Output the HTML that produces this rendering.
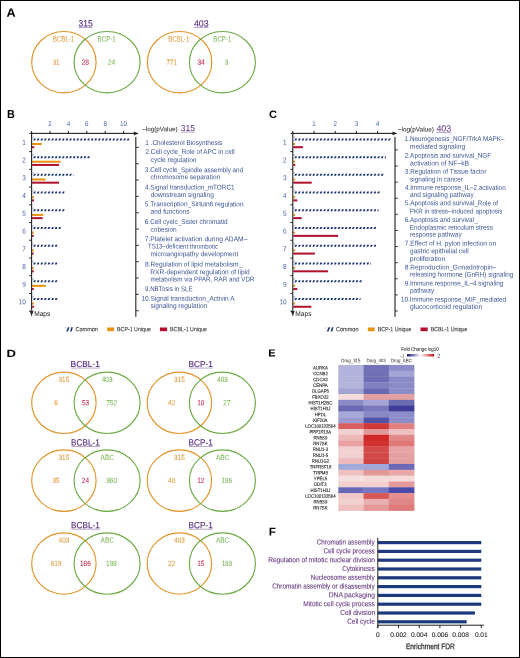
<!DOCTYPE html><html><head><meta charset="utf-8"><style>html,body{margin:0;padding:0;background:#fff;}svg{display:block;will-change:transform;}text{font-family:"Liberation Sans",sans-serif;}</style></head><body>
<svg width="520" height="658" viewBox="0 0 520 658">
<defs><pattern id="hatch" x="0" y="0" width="3.6" height="4" patternUnits="userSpaceOnUse"><path d="M0.6,0 L2.9,0 L2.3,4 L0,4 Z" fill="#1b3577"/></pattern>
<linearGradient id="fcg" x1="0" x2="1" y1="0" y2="0"><stop offset="0" stop-color="#121278"/><stop offset="0.5" stop-color="#ffffff"/><stop offset="1" stop-color="#c80808"/></linearGradient></defs>
<rect x="0" y="0" width="520" height="658" fill="#000"/>
<rect x="1" y="1" width="518" height="656" fill="#fff"/>
<text x="6.58" y="16.70" font-size="11.94" fill="#000" font-weight="bold" textLength="9.15" lengthAdjust="spacingAndGlyphs" transform="rotate(0.06 6.58 16.70)">A</text>
<text x="7.08" y="117.90" font-size="11.67" fill="#000" font-weight="bold" textLength="7.82" lengthAdjust="spacingAndGlyphs" transform="rotate(0.06 7.08 117.90)">B</text>
<text x="268.94" y="118.00" font-size="10.83" fill="#000" font-weight="bold" textLength="8.06" lengthAdjust="spacingAndGlyphs" transform="rotate(0.06 268.94 118.00)">C</text>
<text x="6.63" y="357.00" font-size="10.42" fill="#000" font-weight="bold" textLength="9.42" lengthAdjust="spacingAndGlyphs" transform="rotate(0.06 6.63 357.00)">D</text>
<text x="268.36" y="356.40" font-size="10.28" fill="#000" font-weight="bold" textLength="7.37" lengthAdjust="spacingAndGlyphs" transform="rotate(0.06 268.36 356.40)">E</text>
<text x="268.71" y="535.50" font-size="11.11" fill="#000" font-weight="bold" textLength="7.22" lengthAdjust="spacingAndGlyphs" transform="rotate(0.06 268.71 535.50)">F</text>
<text x="78.48" y="26.40" font-size="9.31" fill="#5b2f82" textLength="14.18" lengthAdjust="spacingAndGlyphs" stroke="#5b2f82" stroke-width="0.15" transform="rotate(0.06 78.48 26.40)">315</text>
<rect x="78.50" y="27.00" width="14.10" height="0.7" fill="#5b2f82" opacity="0.6"/>
<text x="193.90" y="26.40" font-size="9.03" fill="#5b2f82" textLength="14.69" lengthAdjust="spacingAndGlyphs" stroke="#5b2f82" stroke-width="0.15" transform="rotate(0.06 193.90 26.40)">403</text>
<rect x="193.80" y="27.00" width="14.70" height="0.7" fill="#5b2f82" opacity="0.6"/>
<ellipse cx="63.9" cy="62.2" rx="32.2" ry="30.7" fill="none" stroke="#e1952b" stroke-width="1.15"/>
<ellipse cx="107.1" cy="62.2" rx="33.0" ry="30.7" fill="none" stroke="#6cab45" stroke-width="1.15"/>
<text x="52.69" y="41.50" font-size="7.50" fill="#e39c40" textLength="21.61" lengthAdjust="spacingAndGlyphs" stroke="#e39c40" stroke-width="0.08" transform="rotate(0.06 52.69 41.50)">BCBL-1</text>
<text x="97.59" y="41.50" font-size="7.50" fill="#7db85c" textLength="18.21" lengthAdjust="spacingAndGlyphs" stroke="#7db85c" stroke-width="0.08" transform="rotate(0.06 97.59 41.50)">BCP-1</text>
<text x="52.67" y="64.70" font-size="7.50" fill="#e39c40" textLength="6.83" lengthAdjust="spacingAndGlyphs" stroke="#e39c40" stroke-width="0.08" transform="rotate(0.06 52.67 64.70)">31</text>
<text x="81.66" y="64.70" font-size="7.50" fill="#c02a4e" textLength="7.43" lengthAdjust="spacingAndGlyphs" stroke="#c02a4e" stroke-width="0.08" transform="rotate(0.06 81.66 64.70)">28</text>
<text x="107.66" y="64.70" font-size="7.50" fill="#7db85c" textLength="7.54" lengthAdjust="spacingAndGlyphs" stroke="#7db85c" stroke-width="0.08" transform="rotate(0.06 107.66 64.70)">24</text>
<ellipse cx="179.6" cy="62.2" rx="32.2" ry="30.7" fill="none" stroke="#e1952b" stroke-width="1.15"/>
<ellipse cx="222.4" cy="62.2" rx="33.0" ry="30.7" fill="none" stroke="#6cab45" stroke-width="1.15"/>
<text x="168.30" y="41.50" font-size="7.50" fill="#e39c40" textLength="21.19" lengthAdjust="spacingAndGlyphs" stroke="#e39c40" stroke-width="0.08" transform="rotate(0.06 168.30 41.50)">BCBL-1</text>
<text x="213.30" y="41.50" font-size="7.50" fill="#7db85c" textLength="18.10" lengthAdjust="spacingAndGlyphs" stroke="#7db85c" stroke-width="0.08" transform="rotate(0.06 213.30 41.50)">BCP-1</text>
<text x="166.59" y="64.70" font-size="7.50" fill="#e39c40" textLength="10.21" lengthAdjust="spacingAndGlyphs" stroke="#e39c40" stroke-width="0.08" transform="rotate(0.06 166.59 64.70)">771</text>
<text x="197.45" y="64.70" font-size="7.50" fill="#c02a4e" textLength="7.34" lengthAdjust="spacingAndGlyphs" stroke="#c02a4e" stroke-width="0.08" transform="rotate(0.06 197.45 64.70)">34</text>
<text x="224.65" y="64.70" font-size="7.50" fill="#7db85c" textLength="3.64" lengthAdjust="spacingAndGlyphs" stroke="#7db85c" stroke-width="0.08" transform="rotate(0.06 224.65 64.70)">3</text>
<text x="70.61" y="367.00" font-size="8.60" fill="#5b2f82" textLength="29.29" lengthAdjust="spacingAndGlyphs" stroke="#5b2f82" stroke-width="0.15" transform="rotate(0.06 70.61 367.00)">BCBL-1</text>
<rect x="71.00" y="367.70" width="28.80" height="0.7" fill="#5b2f82" opacity="0.6"/>
<text x="188.62" y="367.00" font-size="8.60" fill="#5b2f82" textLength="24.28" lengthAdjust="spacingAndGlyphs" stroke="#5b2f82" stroke-width="0.15" transform="rotate(0.06 188.62 367.00)">BCP-1</text>
<rect x="189.00" y="367.70" width="23.80" height="0.7" fill="#5b2f82" opacity="0.6"/>
<ellipse cx="63.9" cy="402.8" rx="32.2" ry="30.7" fill="none" stroke="#e1952b" stroke-width="1.15"/>
<ellipse cx="107.1" cy="402.8" rx="33.0" ry="30.7" fill="none" stroke="#6cab45" stroke-width="1.15"/>
<text x="58.53" y="382.10" font-size="7.50" fill="#e39c40" textLength="10.76" lengthAdjust="spacingAndGlyphs" stroke="#e39c40" stroke-width="0.08" transform="rotate(0.06 58.53 382.10)">315</text>
<text x="101.79" y="382.10" font-size="7.50" fill="#7db85c" textLength="10.76" lengthAdjust="spacingAndGlyphs" stroke="#7db85c" stroke-width="0.08" transform="rotate(0.06 101.79 382.10)">403</text>
<text x="54.28" y="405.30" font-size="7.50" fill="#e39c40" textLength="3.59" lengthAdjust="spacingAndGlyphs" stroke="#e39c40" stroke-width="0.08" transform="rotate(0.06 54.28 405.30)">6</text>
<text x="81.93" y="405.30" font-size="7.50" fill="#c02a4e" textLength="7.17" lengthAdjust="spacingAndGlyphs" stroke="#c02a4e" stroke-width="0.08" transform="rotate(0.06 81.93 405.30)">53</text>
<text x="106.22" y="405.30" font-size="7.50" fill="#7db85c" textLength="10.76" lengthAdjust="spacingAndGlyphs" stroke="#7db85c" stroke-width="0.08" transform="rotate(0.06 106.22 405.30)">752</text>
<ellipse cx="179.4" cy="402.8" rx="32.2" ry="30.7" fill="none" stroke="#e1952b" stroke-width="1.15"/>
<ellipse cx="222.4" cy="402.8" rx="33.0" ry="30.7" fill="none" stroke="#6cab45" stroke-width="1.15"/>
<text x="174.03" y="382.10" font-size="7.50" fill="#e39c40" textLength="10.76" lengthAdjust="spacingAndGlyphs" stroke="#e39c40" stroke-width="0.08" transform="rotate(0.06 174.03 382.10)">315</text>
<text x="217.09" y="382.10" font-size="7.50" fill="#7db85c" textLength="10.76" lengthAdjust="spacingAndGlyphs" stroke="#7db85c" stroke-width="0.08" transform="rotate(0.06 217.09 382.10)">403</text>
<text x="168.10" y="405.30" font-size="7.50" fill="#e39c40" textLength="7.17" lengthAdjust="spacingAndGlyphs" stroke="#e39c40" stroke-width="0.08" transform="rotate(0.06 168.10 405.30)">42</text>
<text x="197.19" y="405.30" font-size="7.50" fill="#c02a4e" textLength="7.17" lengthAdjust="spacingAndGlyphs" stroke="#c02a4e" stroke-width="0.08" transform="rotate(0.06 197.19 405.30)">10</text>
<text x="223.31" y="405.30" font-size="7.50" fill="#7db85c" textLength="7.17" lengthAdjust="spacingAndGlyphs" stroke="#7db85c" stroke-width="0.08" transform="rotate(0.06 223.31 405.30)">27</text>
<text x="71.02" y="445.40" font-size="9.17" fill="#5b2f82" textLength="28.88" lengthAdjust="spacingAndGlyphs" stroke="#5b2f82" stroke-width="0.15" transform="rotate(0.06 71.02 445.40)">BCBL-1</text>
<rect x="71.40" y="446.10" width="28.40" height="0.7" fill="#5b2f82" opacity="0.6"/>
<text x="188.62" y="445.40" font-size="9.17" fill="#5b2f82" textLength="24.28" lengthAdjust="spacingAndGlyphs" stroke="#5b2f82" stroke-width="0.15" transform="rotate(0.06 188.62 445.40)">BCP-1</text>
<rect x="189.00" y="446.10" width="23.80" height="0.7" fill="#5b2f82" opacity="0.6"/>
<ellipse cx="63.9" cy="480.6" rx="32.2" ry="30.7" fill="none" stroke="#e1952b" stroke-width="1.15"/>
<ellipse cx="107.1" cy="480.6" rx="33.0" ry="30.7" fill="none" stroke="#6cab45" stroke-width="1.15"/>
<text x="58.53" y="459.90" font-size="7.50" fill="#e39c40" textLength="10.76" lengthAdjust="spacingAndGlyphs" stroke="#e39c40" stroke-width="0.08" transform="rotate(0.06 58.53 459.90)">315</text>
<text x="100.59" y="459.90" font-size="7.50" fill="#7db85c" textLength="13.26" lengthAdjust="spacingAndGlyphs" stroke="#7db85c" stroke-width="0.08" transform="rotate(0.06 100.59 459.90)">ABC</text>
<text x="52.53" y="483.10" font-size="7.50" fill="#e39c40" textLength="7.17" lengthAdjust="spacingAndGlyphs" stroke="#e39c40" stroke-width="0.08" transform="rotate(0.06 52.53 483.10)">35</text>
<text x="81.85" y="483.10" font-size="7.50" fill="#c02a4e" textLength="7.17" lengthAdjust="spacingAndGlyphs" stroke="#c02a4e" stroke-width="0.08" transform="rotate(0.06 81.85 483.10)">24</text>
<text x="106.22" y="483.10" font-size="7.50" fill="#7db85c" textLength="10.76" lengthAdjust="spacingAndGlyphs" stroke="#7db85c" stroke-width="0.08" transform="rotate(0.06 106.22 483.10)">360</text>
<ellipse cx="179.4" cy="480.6" rx="32.2" ry="30.7" fill="none" stroke="#e1952b" stroke-width="1.15"/>
<ellipse cx="222.4" cy="480.6" rx="33.0" ry="30.7" fill="none" stroke="#6cab45" stroke-width="1.15"/>
<text x="174.03" y="459.90" font-size="7.50" fill="#e39c40" textLength="10.76" lengthAdjust="spacingAndGlyphs" stroke="#e39c40" stroke-width="0.08" transform="rotate(0.06 174.03 459.90)">315</text>
<text x="215.89" y="459.90" font-size="7.50" fill="#7db85c" textLength="13.26" lengthAdjust="spacingAndGlyphs" stroke="#7db85c" stroke-width="0.08" transform="rotate(0.06 215.89 459.90)">ABC</text>
<text x="168.06" y="483.10" font-size="7.50" fill="#e39c40" textLength="7.17" lengthAdjust="spacingAndGlyphs" stroke="#e39c40" stroke-width="0.08" transform="rotate(0.06 168.06 483.10)">40</text>
<text x="197.23" y="483.10" font-size="7.50" fill="#c02a4e" textLength="7.17" lengthAdjust="spacingAndGlyphs" stroke="#c02a4e" stroke-width="0.08" transform="rotate(0.06 197.23 483.10)">12</text>
<text x="221.42" y="483.10" font-size="7.50" fill="#7db85c" textLength="10.76" lengthAdjust="spacingAndGlyphs" stroke="#7db85c" stroke-width="0.08" transform="rotate(0.06 221.42 483.10)">186</text>
<text x="71.02" y="528.20" font-size="9.03" fill="#5b2f82" textLength="28.88" lengthAdjust="spacingAndGlyphs" stroke="#5b2f82" stroke-width="0.15" transform="rotate(0.06 71.02 528.20)">BCBL-1</text>
<rect x="71.40" y="528.80" width="28.40" height="0.7" fill="#5b2f82" opacity="0.6"/>
<text x="188.62" y="528.20" font-size="9.03" fill="#5b2f82" textLength="24.28" lengthAdjust="spacingAndGlyphs" stroke="#5b2f82" stroke-width="0.15" transform="rotate(0.06 188.62 528.20)">BCP-1</text>
<rect x="189.00" y="528.80" width="23.80" height="0.7" fill="#5b2f82" opacity="0.6"/>
<ellipse cx="63.9" cy="563.5" rx="32.2" ry="30.7" fill="none" stroke="#e1952b" stroke-width="1.15"/>
<ellipse cx="107.1" cy="563.5" rx="33.0" ry="30.7" fill="none" stroke="#6cab45" stroke-width="1.15"/>
<text x="58.59" y="542.80" font-size="7.50" fill="#e39c40" textLength="10.76" lengthAdjust="spacingAndGlyphs" stroke="#e39c40" stroke-width="0.08" transform="rotate(0.06 58.59 542.80)">403</text>
<text x="100.59" y="542.80" font-size="7.50" fill="#7db85c" textLength="13.26" lengthAdjust="spacingAndGlyphs" stroke="#7db85c" stroke-width="0.08" transform="rotate(0.06 100.59 542.80)">ABC</text>
<text x="50.71" y="566.00" font-size="7.50" fill="#e39c40" textLength="10.76" lengthAdjust="spacingAndGlyphs" stroke="#e39c40" stroke-width="0.08" transform="rotate(0.06 50.71 566.00)">619</text>
<text x="80.02" y="566.00" font-size="7.50" fill="#c02a4e" textLength="10.76" lengthAdjust="spacingAndGlyphs" stroke="#c02a4e" stroke-width="0.08" transform="rotate(0.06 80.02 566.00)">186</text>
<text x="106.11" y="566.00" font-size="7.50" fill="#7db85c" textLength="10.76" lengthAdjust="spacingAndGlyphs" stroke="#7db85c" stroke-width="0.08" transform="rotate(0.06 106.11 566.00)">198</text>
<ellipse cx="179.4" cy="563.5" rx="32.2" ry="30.7" fill="none" stroke="#e1952b" stroke-width="1.15"/>
<ellipse cx="222.4" cy="563.5" rx="33.0" ry="30.7" fill="none" stroke="#6cab45" stroke-width="1.15"/>
<text x="174.09" y="542.80" font-size="7.50" fill="#e39c40" textLength="10.76" lengthAdjust="spacingAndGlyphs" stroke="#e39c40" stroke-width="0.08" transform="rotate(0.06 174.09 542.80)">403</text>
<text x="215.89" y="542.80" font-size="7.50" fill="#7db85c" textLength="13.26" lengthAdjust="spacingAndGlyphs" stroke="#7db85c" stroke-width="0.08" transform="rotate(0.06 215.89 542.80)">ABC</text>
<text x="168.01" y="566.00" font-size="7.50" fill="#e39c40" textLength="7.17" lengthAdjust="spacingAndGlyphs" stroke="#e39c40" stroke-width="0.08" transform="rotate(0.06 168.01 566.00)">22</text>
<text x="197.20" y="566.00" font-size="7.50" fill="#c02a4e" textLength="7.17" lengthAdjust="spacingAndGlyphs" stroke="#c02a4e" stroke-width="0.08" transform="rotate(0.06 197.20 566.00)">15</text>
<text x="221.42" y="566.00" font-size="7.50" fill="#7db85c" textLength="10.76" lengthAdjust="spacingAndGlyphs" stroke="#7db85c" stroke-width="0.08" transform="rotate(0.06 221.42 566.00)">183</text>
<path d="M33.25,140.40L35.15,140.40L35.85,138.40L33.95,138.40ZM36.85,140.40L38.75,140.40L39.45,138.40L37.55,138.40ZM40.45,140.40L42.35,140.40L43.05,138.40L41.15,138.40ZM44.05,140.40L45.95,140.40L46.65,138.40L44.75,138.40ZM47.65,140.40L49.55,140.40L50.25,138.40L48.35,138.40ZM51.25,140.40L53.15,140.40L53.85,138.40L51.95,138.40ZM54.85,140.40L56.75,140.40L57.45,138.40L55.55,138.40ZM58.45,140.40L60.35,140.40L61.05,138.40L59.15,138.40ZM62.05,140.40L63.95,140.40L64.65,138.40L62.75,138.40ZM65.65,140.40L67.55,140.40L68.25,138.40L66.35,138.40ZM69.25,140.40L71.15,140.40L71.85,138.40L69.95,138.40ZM72.85,140.40L74.75,140.40L75.45,138.40L73.55,138.40ZM76.45,140.40L78.35,140.40L79.05,138.40L77.15,138.40ZM80.05,140.40L81.95,140.40L82.65,138.40L80.75,138.40ZM83.65,140.40L85.55,140.40L86.25,138.40L84.35,138.40ZM87.25,140.40L89.15,140.40L89.85,138.40L87.95,138.40ZM90.85,140.40L92.75,140.40L93.45,138.40L91.55,138.40ZM94.45,140.40L96.35,140.40L97.05,138.40L95.15,138.40ZM98.05,140.40L99.95,140.40L100.65,138.40L98.75,138.40ZM101.65,140.40L103.55,140.40L104.25,138.40L102.35,138.40ZM105.25,140.40L107.15,140.40L107.85,138.40L105.95,138.40ZM108.85,140.40L110.75,140.40L111.45,138.40L109.55,138.40ZM112.45,140.40L114.35,140.40L115.05,138.40L113.15,138.40ZM116.05,140.40L117.95,140.40L118.65,138.40L116.75,138.40ZM119.65,140.40L121.55,140.40L122.25,138.40L120.35,138.40ZM123.25,140.40L125.15,140.40L125.85,138.40L123.95,138.40ZM126.85,140.40L128.75,140.40L129.45,138.40L127.55,138.40Z" fill="#1b3577"/>
<path d="M32.20,138.30L33.20,138.30L33.90,136.50L32.90,136.50Z" fill="#9fadd2"/>
<rect x="32.10" y="143.00" width="9.70" height="2" fill="#e8920e"/>
<rect x="32.10" y="146.20" width="2.20" height="2" fill="#b0102e"/>
<text x="22.31" y="144.80" font-size="7.20" fill="#4a66a8" textLength="3.60" lengthAdjust="spacingAndGlyphs" transform="rotate(0.06 22.31 144.80)">1</text>
<rect x="29.20" y="151.10" width="2.4" height="1" fill="#222"/>
<path d="M33.25,158.13L35.15,158.13L35.85,156.13L33.95,156.13ZM36.85,158.13L38.75,158.13L39.45,156.13L37.55,156.13ZM40.45,158.13L42.35,158.13L43.05,156.13L41.15,156.13ZM44.05,158.13L45.95,158.13L46.65,156.13L44.75,156.13ZM47.65,158.13L49.55,158.13L50.25,156.13L48.35,156.13ZM51.25,158.13L53.15,158.13L53.85,156.13L51.95,156.13ZM54.85,158.13L56.75,158.13L57.45,156.13L55.55,156.13ZM58.45,158.13L60.35,158.13L61.05,156.13L59.15,156.13ZM62.05,158.13L63.95,158.13L64.65,156.13L62.75,156.13ZM65.65,158.13L67.55,158.13L68.25,156.13L66.35,156.13ZM69.25,158.13L71.15,158.13L71.85,156.13L69.95,156.13ZM72.85,158.13L74.75,158.13L75.45,156.13L73.55,156.13ZM76.45,158.13L78.35,158.13L79.05,156.13L77.15,156.13ZM80.05,158.13L81.95,158.13L82.65,156.13L80.75,156.13ZM83.65,158.13L85.55,158.13L86.25,156.13L84.35,156.13ZM87.25,158.13L89.15,158.13L89.85,156.13L87.95,156.13Z" fill="#1b3577"/>
<path d="M32.20,156.03L33.20,156.03L33.90,154.23L32.90,154.23Z" fill="#9fadd2"/>
<rect x="32.10" y="160.73" width="28.50" height="2" fill="#e8920e"/>
<rect x="32.10" y="163.93" width="26.90" height="2" fill="#b0102e"/>
<text x="22.32" y="162.53" font-size="7.20" fill="#4a66a8" textLength="3.60" lengthAdjust="spacingAndGlyphs" transform="rotate(0.06 22.32 162.53)">2</text>
<rect x="29.20" y="168.83" width="2.4" height="1" fill="#222"/>
<path d="M33.25,175.86L35.15,175.86L35.85,173.86L33.95,173.86ZM36.85,175.86L38.75,175.86L39.45,173.86L37.55,173.86ZM40.45,175.86L42.35,175.86L43.05,173.86L41.15,173.86ZM44.05,175.86L45.95,175.86L46.65,173.86L44.75,173.86ZM47.65,175.86L49.55,175.86L50.25,173.86L48.35,173.86ZM51.25,175.86L53.15,175.86L53.85,173.86L51.95,173.86ZM54.85,175.86L56.75,175.86L57.45,173.86L55.55,173.86ZM58.45,175.86L60.35,175.86L61.05,173.86L59.15,173.86ZM62.05,175.86L63.95,175.86L64.65,173.86L62.75,173.86ZM65.65,175.86L67.55,175.86L68.25,173.86L66.35,173.86ZM69.25,175.86L71.15,175.86L71.85,173.86L69.95,173.86ZM72.85,175.86L73.40,175.86L73.40,173.86L73.40,173.86Z" fill="#1b3577"/>
<path d="M32.20,173.76L33.20,173.76L33.90,171.96L32.90,171.96Z" fill="#9fadd2"/>
<rect x="32.10" y="178.46" width="13.40" height="2" fill="#e8920e"/>
<rect x="32.10" y="181.66" width="26.90" height="2" fill="#b0102e"/>
<text x="22.28" y="180.26" font-size="7.20" fill="#4a66a8" textLength="3.60" lengthAdjust="spacingAndGlyphs" transform="rotate(0.06 22.28 180.26)">3</text>
<rect x="29.20" y="186.56" width="2.4" height="1" fill="#222"/>
<path d="M33.25,193.59L35.15,193.59L35.85,191.59L33.95,191.59ZM36.85,193.59L38.75,193.59L39.45,191.59L37.55,191.59ZM40.45,193.59L42.35,193.59L43.05,191.59L41.15,191.59ZM44.05,193.59L45.95,193.59L46.65,191.59L44.75,191.59ZM47.65,193.59L49.55,193.59L50.25,191.59L48.35,191.59ZM51.25,193.59L53.15,193.59L53.85,191.59L51.95,191.59ZM54.85,193.59L56.75,193.59L57.45,191.59L55.55,191.59ZM58.45,193.59L60.35,193.59L61.05,191.59L59.15,191.59ZM62.05,193.59L63.95,193.59L64.65,191.59L62.75,191.59Z" fill="#1b3577"/>
<path d="M32.20,191.49L33.20,191.49L33.90,189.69L32.90,189.69Z" fill="#9fadd2"/>
<rect x="32.10" y="196.19" width="1.90" height="2" fill="#e8920e"/>
<rect x="32.10" y="199.39" width="1.90" height="2" fill="#b0102e"/>
<text x="22.19" y="197.99" font-size="7.20" fill="#4a66a8" textLength="3.60" lengthAdjust="spacingAndGlyphs" transform="rotate(0.06 22.19 197.99)">4</text>
<rect x="29.20" y="204.29" width="2.4" height="1" fill="#222"/>
<path d="M33.25,211.32L35.15,211.32L35.85,209.32L33.95,209.32ZM36.85,211.32L38.75,211.32L39.45,209.32L37.55,209.32ZM40.45,211.32L42.35,211.32L43.05,209.32L41.15,209.32ZM44.05,211.32L45.95,211.32L46.65,209.32L44.75,209.32ZM47.65,211.32L49.55,211.32L50.25,209.32L48.35,209.32ZM51.25,211.32L53.15,211.32L53.85,209.32L51.95,209.32ZM54.85,211.32L56.75,211.32L57.45,209.32L55.55,209.32ZM58.45,211.32L60.35,211.32L61.05,209.32L59.15,209.32ZM62.05,211.32L63.95,211.32L64.65,209.32L62.75,209.32Z" fill="#1b3577"/>
<path d="M32.20,209.22L33.20,209.22L33.90,207.42L32.90,207.42Z" fill="#9fadd2"/>
<rect x="32.10" y="213.92" width="11.20" height="2" fill="#e8920e"/>
<rect x="32.10" y="217.12" width="10.50" height="2" fill="#b0102e"/>
<text x="22.27" y="215.72" font-size="7.20" fill="#4a66a8" textLength="3.60" lengthAdjust="spacingAndGlyphs" transform="rotate(0.06 22.27 215.72)">5</text>
<rect x="29.20" y="222.02" width="2.4" height="1" fill="#222"/>
<path d="M33.25,229.05L35.15,229.05L35.85,227.05L33.95,227.05ZM36.85,229.05L38.75,229.05L39.45,227.05L37.55,227.05ZM40.45,229.05L42.35,229.05L43.05,227.05L41.15,227.05ZM44.05,229.05L45.95,229.05L46.65,227.05L44.75,227.05ZM47.65,229.05L49.55,229.05L50.25,227.05L48.35,227.05ZM51.25,229.05L53.15,229.05L53.85,227.05L51.95,227.05ZM54.85,229.05L56.75,229.05L57.45,227.05L55.55,227.05ZM58.45,229.05L60.35,229.05L60.90,227.05L59.15,227.05Z" fill="#1b3577"/>
<path d="M32.20,226.95L33.20,226.95L33.90,225.15L32.90,225.15Z" fill="#9fadd2"/>
<rect x="32.10" y="231.65" width="1.70" height="2" fill="#e8920e"/>
<rect x="32.10" y="234.85" width="1.70" height="2" fill="#b0102e"/>
<text x="22.28" y="233.45" font-size="7.20" fill="#4a66a8" textLength="3.60" lengthAdjust="spacingAndGlyphs" transform="rotate(0.06 22.28 233.45)">6</text>
<rect x="29.20" y="239.75" width="2.4" height="1" fill="#222"/>
<path d="M33.25,246.78L35.15,246.78L35.85,244.78L33.95,244.78ZM36.85,246.78L38.75,246.78L39.45,244.78L37.55,244.78ZM40.45,246.78L42.35,246.78L43.05,244.78L41.15,244.78ZM44.05,246.78L45.95,246.78L46.65,244.78L44.75,244.78ZM47.65,246.78L49.55,246.78L50.25,244.78L48.35,244.78ZM51.25,246.78L53.15,246.78L53.85,244.78L51.95,244.78ZM54.85,246.78L56.75,246.78L57.45,244.78L55.55,244.78Z" fill="#1b3577"/>
<path d="M32.20,244.68L33.20,244.68L33.90,242.88L32.90,242.88Z" fill="#9fadd2"/>
<rect x="32.10" y="249.38" width="1.70" height="2" fill="#e8920e"/>
<rect x="32.10" y="252.58" width="1.70" height="2" fill="#b0102e"/>
<text x="22.32" y="251.18" font-size="7.20" fill="#4a66a8" textLength="3.60" lengthAdjust="spacingAndGlyphs" transform="rotate(0.06 22.32 251.18)">7</text>
<rect x="29.20" y="257.48" width="2.4" height="1" fill="#222"/>
<path d="M33.25,264.51L35.15,264.51L35.85,262.51L33.95,262.51ZM36.85,264.51L38.75,264.51L39.45,262.51L37.55,262.51ZM40.45,264.51L42.35,264.51L43.05,262.51L41.15,262.51ZM44.05,264.51L45.95,264.51L46.65,262.51L44.75,262.51ZM47.65,264.51L49.55,264.51L50.25,262.51L48.35,262.51ZM51.25,264.51L53.15,264.51L53.85,262.51L51.95,262.51ZM54.85,264.51L56.75,264.51L57.45,262.51L55.55,262.51Z" fill="#1b3577"/>
<path d="M32.20,262.41L33.20,262.41L33.90,260.61L32.90,260.61Z" fill="#9fadd2"/>
<rect x="32.10" y="267.11" width="1.70" height="2" fill="#e8920e"/>
<rect x="32.10" y="270.31" width="1.70" height="2" fill="#b0102e"/>
<text x="22.28" y="268.91" font-size="7.20" fill="#4a66a8" textLength="3.60" lengthAdjust="spacingAndGlyphs" transform="rotate(0.06 22.28 268.91)">8</text>
<rect x="29.20" y="275.21" width="2.4" height="1" fill="#222"/>
<path d="M33.25,282.24L35.15,282.24L35.85,280.24L33.95,280.24ZM36.85,282.24L38.75,282.24L39.45,280.24L37.55,280.24ZM40.45,282.24L42.35,282.24L43.05,280.24L41.15,280.24ZM44.05,282.24L45.95,282.24L46.65,280.24L44.75,280.24ZM47.65,282.24L49.55,282.24L50.25,280.24L48.35,280.24ZM51.25,282.24L53.15,282.24L53.85,280.24L51.95,280.24ZM54.85,282.24L56.75,282.24L57.45,280.24L55.55,280.24Z" fill="#1b3577"/>
<path d="M32.20,280.14L33.20,280.14L33.90,278.34L32.90,278.34Z" fill="#9fadd2"/>
<rect x="32.10" y="284.84" width="13.80" height="2" fill="#e8920e"/>
<rect x="32.10" y="288.04" width="1.70" height="2" fill="#b0102e"/>
<text x="22.30" y="286.64" font-size="7.20" fill="#4a66a8" textLength="3.60" lengthAdjust="spacingAndGlyphs" transform="rotate(0.06 22.30 286.64)">9</text>
<rect x="29.20" y="292.94" width="2.4" height="1" fill="#222"/>
<path d="M33.25,299.97L35.15,299.97L35.85,297.97L33.95,297.97ZM36.85,299.97L38.75,299.97L39.45,297.97L37.55,297.97ZM40.45,299.97L42.35,299.97L43.05,297.97L41.15,297.97ZM44.05,299.97L45.95,299.97L46.65,297.97L44.75,297.97ZM47.65,299.97L49.55,299.97L50.25,297.97L48.35,297.97ZM51.25,299.97L53.15,299.97L53.85,297.97L51.95,297.97ZM54.85,299.97L56.75,299.97L57.45,297.97L55.55,297.97Z" fill="#1b3577"/>
<path d="M32.20,297.87L33.20,297.87L33.90,296.07L32.90,296.07Z" fill="#9fadd2"/>
<rect x="32.10" y="302.57" width="1.70" height="2" fill="#e8920e"/>
<rect x="32.10" y="305.77" width="1.70" height="2" fill="#b0102e"/>
<text x="18.65" y="304.37" font-size="7.20" fill="#4a66a8" textLength="7.21" lengthAdjust="spacingAndGlyphs" transform="rotate(0.06 18.65 304.37)">10</text>
<rect x="29.20" y="310.67" width="2.4" height="1" fill="#222"/>
<rect x="29.40" y="132.85" width="105.00" height="1.1" fill="#222"/>
<path d="M133.9,131.5 L138.9,133.4 L133.9,135.3 Z" fill="#222"/>
<rect x="31.05" y="132.85" width="1.1" height="177.40" fill="#222"/>
<path d="M29.700000000000003,310.8 L31.6,316.4 L33.5,310.8 Z" fill="#222"/>
<text x="34.16" y="315.90" font-size="7.00" fill="#222" textLength="16.18" lengthAdjust="spacingAndGlyphs" transform="rotate(0.06 34.16 315.90)">Maps</text>
<rect x="31.10" y="130.90" width="1" height="2.5" fill="#222"/>
<rect x="49.50" y="130.90" width="1" height="2.5" fill="#222"/>
<text x="48.25" y="126.00" font-size="7.00" fill="#4a66a8" textLength="3.50" lengthAdjust="spacingAndGlyphs" transform="rotate(0.06 48.25 126.00)">2</text>
<rect x="67.90" y="130.90" width="1" height="2.5" fill="#222"/>
<text x="66.67" y="126.00" font-size="7.00" fill="#4a66a8" textLength="3.50" lengthAdjust="spacingAndGlyphs" transform="rotate(0.06 66.67 126.00)">4</text>
<rect x="86.30" y="130.90" width="1" height="2.5" fill="#222"/>
<text x="85.03" y="126.00" font-size="7.00" fill="#4a66a8" textLength="3.50" lengthAdjust="spacingAndGlyphs" transform="rotate(0.06 85.03 126.00)">6</text>
<rect x="104.70" y="130.90" width="1" height="2.5" fill="#222"/>
<text x="103.45" y="126.00" font-size="7.00" fill="#4a66a8" textLength="3.50" lengthAdjust="spacingAndGlyphs" transform="rotate(0.06 103.45 126.00)">8</text>
<rect x="123.10" y="130.90" width="1" height="2.5" fill="#222"/>
<text x="119.98" y="126.00" font-size="7.00" fill="#4a66a8" textLength="7.01" lengthAdjust="spacingAndGlyphs" transform="rotate(0.06 119.98 126.00)">10</text>
<rect x="135.20" y="136.9" width="1.2" height="179.90" fill="#333"/>
<rect x="135.80" y="146.90" width="3.0" height="1" fill="#333"/>
<rect x="135.80" y="163.23" width="3.0" height="1" fill="#333"/>
<rect x="135.80" y="179.56" width="3.0" height="1" fill="#333"/>
<rect x="135.80" y="195.89" width="3.0" height="1" fill="#333"/>
<rect x="135.80" y="212.22" width="3.0" height="1" fill="#333"/>
<rect x="135.80" y="228.55" width="3.0" height="1" fill="#333"/>
<rect x="135.80" y="244.88" width="3.0" height="1" fill="#333"/>
<rect x="135.80" y="261.21" width="3.0" height="1" fill="#333"/>
<rect x="135.80" y="277.54" width="3.0" height="1" fill="#333"/>
<rect x="135.80" y="293.87" width="3.0" height="1" fill="#333"/>
<rect x="135.80" y="310.20" width="3.0" height="1" fill="#333"/>
<path d="M294.45,140.40L296.35,140.40L297.05,138.40L295.15,138.40ZM298.05,140.40L299.95,140.40L300.65,138.40L298.75,138.40ZM301.65,140.40L303.55,140.40L304.25,138.40L302.35,138.40ZM305.25,140.40L307.15,140.40L307.85,138.40L305.95,138.40ZM308.85,140.40L310.75,140.40L311.45,138.40L309.55,138.40ZM312.45,140.40L314.35,140.40L315.05,138.40L313.15,138.40ZM316.05,140.40L317.95,140.40L318.65,138.40L316.75,138.40ZM319.65,140.40L321.55,140.40L322.25,138.40L320.35,138.40ZM323.25,140.40L325.15,140.40L325.85,138.40L323.95,138.40ZM326.85,140.40L328.75,140.40L329.45,138.40L327.55,138.40ZM330.45,140.40L332.35,140.40L333.05,138.40L331.15,138.40ZM334.05,140.40L335.95,140.40L336.65,138.40L334.75,138.40ZM337.65,140.40L339.55,140.40L340.25,138.40L338.35,138.40ZM341.25,140.40L343.15,140.40L343.85,138.40L341.95,138.40ZM344.85,140.40L346.75,140.40L347.45,138.40L345.55,138.40ZM348.45,140.40L350.35,140.40L351.05,138.40L349.15,138.40ZM352.05,140.40L353.95,140.40L354.65,138.40L352.75,138.40ZM355.65,140.40L357.55,140.40L358.25,138.40L356.35,138.40ZM359.25,140.40L361.15,140.40L361.85,138.40L359.95,138.40ZM362.85,140.40L364.75,140.40L365.45,138.40L363.55,138.40ZM366.45,140.40L368.35,140.40L369.05,138.40L367.15,138.40ZM370.05,140.40L371.95,140.40L372.65,138.40L370.75,138.40ZM373.65,140.40L375.55,140.40L376.25,138.40L374.35,138.40ZM377.25,140.40L379.15,140.40L379.85,138.40L377.95,138.40ZM380.85,140.40L382.75,140.40L383.45,138.40L381.55,138.40ZM384.45,140.40L386.35,140.40L387.05,138.40L385.15,138.40ZM388.05,140.40L389.95,140.40L390.65,138.40L388.75,138.40Z" fill="#1b3577"/>
<path d="M293.40,138.30L294.40,138.30L295.10,136.50L294.10,136.50Z" fill="#9fadd2"/>
<rect x="293.30" y="143.00" width="1.80" height="2" fill="#e8920e"/>
<rect x="293.30" y="146.20" width="9.60" height="2" fill="#b0102e"/>
<text x="283.11" y="144.80" font-size="7.20" fill="#4a66a8" textLength="3.60" lengthAdjust="spacingAndGlyphs" transform="rotate(0.06 283.11 144.80)">1</text>
<rect x="290.40" y="151.10" width="2.4" height="1" fill="#222"/>
<path d="M294.45,158.13L296.35,158.13L297.05,156.13L295.15,156.13ZM298.05,158.13L299.95,158.13L300.65,156.13L298.75,156.13ZM301.65,158.13L303.55,158.13L304.25,156.13L302.35,156.13ZM305.25,158.13L307.15,158.13L307.85,156.13L305.95,156.13ZM308.85,158.13L310.75,158.13L311.45,156.13L309.55,156.13ZM312.45,158.13L314.35,158.13L315.05,156.13L313.15,156.13ZM316.05,158.13L317.95,158.13L318.65,156.13L316.75,156.13ZM319.65,158.13L321.55,158.13L322.25,156.13L320.35,156.13ZM323.25,158.13L325.15,158.13L325.85,156.13L323.95,156.13ZM326.85,158.13L328.75,158.13L329.45,156.13L327.55,156.13ZM330.45,158.13L332.35,158.13L333.05,156.13L331.15,156.13ZM334.05,158.13L335.95,158.13L336.65,156.13L334.75,156.13ZM337.65,158.13L339.55,158.13L340.25,156.13L338.35,156.13ZM341.25,158.13L343.15,158.13L343.85,156.13L341.95,156.13ZM344.85,158.13L346.75,158.13L347.45,156.13L345.55,156.13ZM348.45,158.13L350.35,158.13L351.05,156.13L349.15,156.13ZM352.05,158.13L353.95,158.13L354.65,156.13L352.75,156.13ZM355.65,158.13L357.55,158.13L358.25,156.13L356.35,156.13ZM359.25,158.13L361.15,158.13L361.85,156.13L359.95,156.13ZM362.85,158.13L364.75,158.13L365.45,156.13L363.55,156.13ZM366.45,158.13L368.35,158.13L369.05,156.13L367.15,156.13ZM370.05,158.13L371.95,158.13L372.65,156.13L370.75,156.13ZM373.65,158.13L375.55,158.13L376.25,156.13L374.35,156.13ZM377.25,158.13L379.15,158.13L379.85,156.13L377.95,156.13ZM380.85,158.13L382.75,158.13L383.45,156.13L381.55,156.13ZM384.45,158.13L385.80,158.13L385.80,156.13L385.15,156.13Z" fill="#1b3577"/>
<path d="M293.40,156.03L294.40,156.03L295.10,154.23L294.10,154.23Z" fill="#9fadd2"/>
<rect x="293.30" y="160.73" width="1.80" height="2" fill="#e8920e"/>
<rect x="293.30" y="163.93" width="2.00" height="2" fill="#b0102e"/>
<text x="283.12" y="162.53" font-size="7.20" fill="#4a66a8" textLength="3.60" lengthAdjust="spacingAndGlyphs" transform="rotate(0.06 283.12 162.53)">2</text>
<rect x="290.40" y="168.83" width="2.4" height="1" fill="#222"/>
<path d="M294.45,175.86L296.35,175.86L297.05,173.86L295.15,173.86ZM298.05,175.86L299.95,175.86L300.65,173.86L298.75,173.86ZM301.65,175.86L303.55,175.86L304.25,173.86L302.35,173.86ZM305.25,175.86L307.15,175.86L307.85,173.86L305.95,173.86ZM308.85,175.86L310.75,175.86L311.45,173.86L309.55,173.86ZM312.45,175.86L314.35,175.86L315.05,173.86L313.15,173.86ZM316.05,175.86L317.95,175.86L318.65,173.86L316.75,173.86ZM319.65,175.86L321.55,175.86L322.25,173.86L320.35,173.86ZM323.25,175.86L325.15,175.86L325.85,173.86L323.95,173.86ZM326.85,175.86L328.75,175.86L329.45,173.86L327.55,173.86ZM330.45,175.86L332.35,175.86L333.05,173.86L331.15,173.86ZM334.05,175.86L335.95,175.86L336.65,173.86L334.75,173.86ZM337.65,175.86L339.55,175.86L340.25,173.86L338.35,173.86ZM341.25,175.86L343.15,175.86L343.85,173.86L341.95,173.86ZM344.85,175.86L346.75,175.86L347.45,173.86L345.55,173.86ZM348.45,175.86L350.35,175.86L351.05,173.86L349.15,173.86ZM352.05,175.86L353.95,175.86L354.65,173.86L352.75,173.86ZM355.65,175.86L357.55,175.86L358.25,173.86L356.35,173.86ZM359.25,175.86L361.15,175.86L361.85,173.86L359.95,173.86ZM362.85,175.86L364.75,175.86L365.45,173.86L363.55,173.86ZM366.45,175.86L368.35,175.86L369.05,173.86L367.15,173.86ZM370.05,175.86L371.95,175.86L372.65,173.86L370.75,173.86ZM373.65,175.86L375.55,175.86L376.25,173.86L374.35,173.86ZM377.25,175.86L379.15,175.86L379.85,173.86L377.95,173.86ZM380.85,175.86L382.75,175.86L383.45,173.86L381.55,173.86Z" fill="#1b3577"/>
<path d="M293.40,173.76L294.40,173.76L295.10,171.96L294.10,171.96Z" fill="#9fadd2"/>
<rect x="293.30" y="178.46" width="1.80" height="2" fill="#e8920e"/>
<rect x="293.30" y="181.66" width="18.40" height="2" fill="#b0102e"/>
<text x="283.08" y="180.26" font-size="7.20" fill="#4a66a8" textLength="3.60" lengthAdjust="spacingAndGlyphs" transform="rotate(0.06 283.08 180.26)">3</text>
<rect x="290.40" y="186.56" width="2.4" height="1" fill="#222"/>
<path d="M294.45,193.59L296.35,193.59L297.05,191.59L295.15,191.59ZM298.05,193.59L299.95,193.59L300.65,191.59L298.75,191.59ZM301.65,193.59L303.55,193.59L304.25,191.59L302.35,191.59ZM305.25,193.59L307.15,193.59L307.85,191.59L305.95,191.59ZM308.85,193.59L310.75,193.59L311.45,191.59L309.55,191.59ZM312.45,193.59L314.35,193.59L315.05,191.59L313.15,191.59ZM316.05,193.59L317.95,193.59L318.65,191.59L316.75,191.59ZM319.65,193.59L321.55,193.59L322.25,191.59L320.35,191.59ZM323.25,193.59L325.15,193.59L325.85,191.59L323.95,191.59ZM326.85,193.59L328.75,193.59L329.45,191.59L327.55,191.59ZM330.45,193.59L332.35,193.59L333.05,191.59L331.15,191.59ZM334.05,193.59L335.95,193.59L336.65,191.59L334.75,191.59ZM337.65,193.59L339.55,193.59L340.25,191.59L338.35,191.59ZM341.25,193.59L343.15,193.59L343.85,191.59L341.95,191.59ZM344.85,193.59L346.75,193.59L347.45,191.59L345.55,191.59ZM348.45,193.59L350.35,193.59L351.05,191.59L349.15,191.59ZM352.05,193.59L353.95,193.59L354.65,191.59L352.75,191.59ZM355.65,193.59L357.55,193.59L358.25,191.59L356.35,191.59ZM359.25,193.59L361.15,193.59L361.85,191.59L359.95,191.59ZM362.85,193.59L364.75,193.59L365.45,191.59L363.55,191.59ZM366.45,193.59L368.35,193.59L369.05,191.59L367.15,191.59ZM370.05,193.59L371.95,193.59L372.65,191.59L370.75,191.59ZM373.65,193.59L375.55,193.59L376.25,191.59L374.35,191.59ZM377.25,193.59L379.15,193.59L379.85,191.59L377.95,191.59Z" fill="#1b3577"/>
<path d="M293.40,191.49L294.40,191.49L295.10,189.69L294.10,189.69Z" fill="#9fadd2"/>
<rect x="293.30" y="196.19" width="1.80" height="2" fill="#e8920e"/>
<rect x="293.30" y="199.39" width="4.00" height="2" fill="#b0102e"/>
<text x="282.99" y="197.99" font-size="7.20" fill="#4a66a8" textLength="3.60" lengthAdjust="spacingAndGlyphs" transform="rotate(0.06 282.99 197.99)">4</text>
<rect x="290.40" y="204.29" width="2.4" height="1" fill="#222"/>
<path d="M294.45,211.32L296.35,211.32L297.05,209.32L295.15,209.32ZM298.05,211.32L299.95,211.32L300.65,209.32L298.75,209.32ZM301.65,211.32L303.55,211.32L304.25,209.32L302.35,209.32ZM305.25,211.32L307.15,211.32L307.85,209.32L305.95,209.32ZM308.85,211.32L310.75,211.32L311.45,209.32L309.55,209.32ZM312.45,211.32L314.35,211.32L315.05,209.32L313.15,209.32ZM316.05,211.32L317.95,211.32L318.65,209.32L316.75,209.32ZM319.65,211.32L321.55,211.32L322.25,209.32L320.35,209.32ZM323.25,211.32L325.15,211.32L325.85,209.32L323.95,209.32ZM326.85,211.32L328.75,211.32L329.45,209.32L327.55,209.32ZM330.45,211.32L332.35,211.32L333.05,209.32L331.15,209.32ZM334.05,211.32L335.95,211.32L336.65,209.32L334.75,209.32ZM337.65,211.32L339.55,211.32L340.25,209.32L338.35,209.32ZM341.25,211.32L343.15,211.32L343.85,209.32L341.95,209.32ZM344.85,211.32L346.75,211.32L347.45,209.32L345.55,209.32ZM348.45,211.32L350.35,211.32L351.05,209.32L349.15,209.32ZM352.05,211.32L353.95,211.32L354.65,209.32L352.75,209.32ZM355.65,211.32L357.55,211.32L358.25,209.32L356.35,209.32ZM359.25,211.32L361.15,211.32L361.85,209.32L359.95,209.32ZM362.85,211.32L364.75,211.32L365.45,209.32L363.55,209.32ZM366.45,211.32L368.35,211.32L369.05,209.32L367.15,209.32ZM370.05,211.32L371.95,211.32L372.65,209.32L370.75,209.32ZM373.65,211.32L375.55,211.32L376.25,209.32L374.35,209.32ZM377.25,211.32L378.60,211.32L378.60,209.32L377.95,209.32Z" fill="#1b3577"/>
<path d="M293.40,209.22L294.40,209.22L295.10,207.42L294.10,207.42Z" fill="#9fadd2"/>
<rect x="293.30" y="213.92" width="1.80" height="2" fill="#e8920e"/>
<rect x="293.30" y="217.12" width="8.40" height="2" fill="#b0102e"/>
<text x="283.07" y="215.72" font-size="7.20" fill="#4a66a8" textLength="3.60" lengthAdjust="spacingAndGlyphs" transform="rotate(0.06 283.07 215.72)">5</text>
<rect x="290.40" y="222.02" width="2.4" height="1" fill="#222"/>
<path d="M294.45,229.05L296.35,229.05L297.05,227.05L295.15,227.05ZM298.05,229.05L299.95,229.05L300.65,227.05L298.75,227.05ZM301.65,229.05L303.55,229.05L304.25,227.05L302.35,227.05ZM305.25,229.05L307.15,229.05L307.85,227.05L305.95,227.05ZM308.85,229.05L310.75,229.05L311.45,227.05L309.55,227.05ZM312.45,229.05L314.35,229.05L315.05,227.05L313.15,227.05ZM316.05,229.05L317.95,229.05L318.65,227.05L316.75,227.05ZM319.65,229.05L321.55,229.05L322.25,227.05L320.35,227.05ZM323.25,229.05L325.15,229.05L325.85,227.05L323.95,227.05ZM326.85,229.05L328.75,229.05L329.45,227.05L327.55,227.05ZM330.45,229.05L332.35,229.05L333.05,227.05L331.15,227.05ZM334.05,229.05L335.95,229.05L336.65,227.05L334.75,227.05ZM337.65,229.05L339.55,229.05L340.25,227.05L338.35,227.05ZM341.25,229.05L343.15,229.05L343.85,227.05L341.95,227.05ZM344.85,229.05L346.75,229.05L347.45,227.05L345.55,227.05ZM348.45,229.05L350.35,229.05L351.05,227.05L349.15,227.05ZM352.05,229.05L353.95,229.05L354.65,227.05L352.75,227.05ZM355.65,229.05L357.55,229.05L358.25,227.05L356.35,227.05ZM359.25,229.05L361.15,229.05L361.85,227.05L359.95,227.05ZM362.85,229.05L364.75,229.05L365.45,227.05L363.55,227.05ZM366.45,229.05L368.35,229.05L369.05,227.05L367.15,227.05ZM370.05,229.05L371.95,229.05L372.65,227.05L370.75,227.05ZM373.65,229.05L375.55,229.05L376.25,227.05L374.35,227.05Z" fill="#1b3577"/>
<path d="M293.40,226.95L294.40,226.95L295.10,225.15L294.10,225.15Z" fill="#9fadd2"/>
<rect x="293.30" y="231.65" width="1.80" height="2" fill="#e8920e"/>
<rect x="293.30" y="234.85" width="44.90" height="2" fill="#b0102e"/>
<text x="283.08" y="233.45" font-size="7.20" fill="#4a66a8" textLength="3.60" lengthAdjust="spacingAndGlyphs" transform="rotate(0.06 283.08 233.45)">6</text>
<rect x="290.40" y="239.75" width="2.4" height="1" fill="#222"/>
<path d="M294.45,246.78L296.35,246.78L297.05,244.78L295.15,244.78ZM298.05,246.78L299.95,246.78L300.65,244.78L298.75,244.78ZM301.65,246.78L303.55,246.78L304.25,244.78L302.35,244.78ZM305.25,246.78L307.15,246.78L307.85,244.78L305.95,244.78ZM308.85,246.78L310.75,246.78L311.45,244.78L309.55,244.78ZM312.45,246.78L314.35,246.78L315.05,244.78L313.15,244.78ZM316.05,246.78L317.95,246.78L318.65,244.78L316.75,244.78ZM319.65,246.78L321.55,246.78L322.25,244.78L320.35,244.78ZM323.25,246.78L325.15,246.78L325.85,244.78L323.95,244.78ZM326.85,246.78L328.75,246.78L329.45,244.78L327.55,244.78ZM330.45,246.78L332.35,246.78L333.05,244.78L331.15,244.78ZM334.05,246.78L335.95,246.78L336.65,244.78L334.75,244.78ZM337.65,246.78L339.55,246.78L340.25,244.78L338.35,244.78ZM341.25,246.78L343.15,246.78L343.85,244.78L341.95,244.78ZM344.85,246.78L346.75,246.78L347.45,244.78L345.55,244.78ZM348.45,246.78L350.35,246.78L351.05,244.78L349.15,244.78ZM352.05,246.78L353.95,246.78L354.65,244.78L352.75,244.78ZM355.65,246.78L357.55,246.78L358.25,244.78L356.35,244.78ZM359.25,246.78L361.15,246.78L361.85,244.78L359.95,244.78ZM362.85,246.78L364.75,246.78L365.45,244.78L363.55,244.78ZM366.45,246.78L368.35,246.78L369.05,244.78L367.15,244.78ZM370.05,246.78L371.95,246.78L372.65,244.78L370.75,244.78ZM373.65,246.78L375.55,246.78L376.25,244.78L374.35,244.78Z" fill="#1b3577"/>
<path d="M293.40,244.68L294.40,244.68L295.10,242.88L294.10,242.88Z" fill="#9fadd2"/>
<rect x="293.30" y="249.38" width="1.80" height="2" fill="#e8920e"/>
<rect x="293.30" y="252.58" width="21.60" height="2" fill="#b0102e"/>
<text x="283.12" y="251.18" font-size="7.20" fill="#4a66a8" textLength="3.60" lengthAdjust="spacingAndGlyphs" transform="rotate(0.06 283.12 251.18)">7</text>
<rect x="290.40" y="257.48" width="2.4" height="1" fill="#222"/>
<path d="M294.45,264.51L296.35,264.51L297.05,262.51L295.15,262.51ZM298.05,264.51L299.95,264.51L300.65,262.51L298.75,262.51ZM301.65,264.51L303.55,264.51L304.25,262.51L302.35,262.51ZM305.25,264.51L307.15,264.51L307.85,262.51L305.95,262.51ZM308.85,264.51L310.75,264.51L311.45,262.51L309.55,262.51ZM312.45,264.51L314.35,264.51L315.05,262.51L313.15,262.51ZM316.05,264.51L317.95,264.51L318.65,262.51L316.75,262.51ZM319.65,264.51L321.55,264.51L322.25,262.51L320.35,262.51ZM323.25,264.51L325.15,264.51L325.85,262.51L323.95,262.51ZM326.85,264.51L328.75,264.51L329.45,262.51L327.55,262.51ZM330.45,264.51L332.35,264.51L333.05,262.51L331.15,262.51ZM334.05,264.51L335.95,264.51L336.65,262.51L334.75,262.51ZM337.65,264.51L339.55,264.51L340.25,262.51L338.35,262.51ZM341.25,264.51L343.15,264.51L343.85,262.51L341.95,262.51ZM344.85,264.51L346.75,264.51L347.45,262.51L345.55,262.51ZM348.45,264.51L350.35,264.51L351.05,262.51L349.15,262.51ZM352.05,264.51L353.95,264.51L354.65,262.51L352.75,262.51ZM355.65,264.51L357.55,264.51L358.25,262.51L356.35,262.51ZM359.25,264.51L361.15,264.51L361.85,262.51L359.95,262.51ZM362.85,264.51L364.75,264.51L365.45,262.51L363.55,262.51ZM366.45,264.51L368.35,264.51L369.05,262.51L367.15,262.51ZM370.05,264.51L370.90,264.51L370.90,262.51L370.75,262.51Z" fill="#1b3577"/>
<path d="M293.40,262.41L294.40,262.41L295.10,260.61L294.10,260.61Z" fill="#9fadd2"/>
<rect x="293.30" y="267.11" width="1.80" height="2" fill="#e8920e"/>
<rect x="293.30" y="270.31" width="34.80" height="2" fill="#b0102e"/>
<text x="283.08" y="268.91" font-size="7.20" fill="#4a66a8" textLength="3.60" lengthAdjust="spacingAndGlyphs" transform="rotate(0.06 283.08 268.91)">8</text>
<rect x="290.40" y="275.21" width="2.4" height="1" fill="#222"/>
<path d="M294.45,282.24L296.35,282.24L297.05,280.24L295.15,280.24ZM298.05,282.24L299.95,282.24L300.65,280.24L298.75,280.24ZM301.65,282.24L303.55,282.24L304.25,280.24L302.35,280.24ZM305.25,282.24L307.15,282.24L307.85,280.24L305.95,280.24ZM308.85,282.24L310.75,282.24L311.45,280.24L309.55,280.24ZM312.45,282.24L314.35,282.24L315.05,280.24L313.15,280.24ZM316.05,282.24L317.95,282.24L318.65,280.24L316.75,280.24ZM319.65,282.24L321.55,282.24L322.25,280.24L320.35,280.24ZM323.25,282.24L325.15,282.24L325.85,280.24L323.95,280.24ZM326.85,282.24L328.75,282.24L329.45,280.24L327.55,280.24ZM330.45,282.24L332.35,282.24L333.05,280.24L331.15,280.24ZM334.05,282.24L335.95,282.24L336.65,280.24L334.75,280.24ZM337.65,282.24L339.55,282.24L340.25,280.24L338.35,280.24ZM341.25,282.24L343.15,282.24L343.85,280.24L341.95,280.24ZM344.85,282.24L346.75,282.24L347.45,280.24L345.55,280.24ZM348.45,282.24L350.35,282.24L351.05,280.24L349.15,280.24ZM352.05,282.24L353.95,282.24L354.65,280.24L352.75,280.24ZM355.65,282.24L357.55,282.24L358.25,280.24L356.35,280.24ZM359.25,282.24L361.15,282.24L361.85,280.24L359.95,280.24Z" fill="#1b3577"/>
<path d="M293.40,280.14L294.40,280.14L295.10,278.34L294.10,278.34Z" fill="#9fadd2"/>
<rect x="293.30" y="284.84" width="1.80" height="2" fill="#e8920e"/>
<rect x="293.30" y="288.04" width="4.00" height="2" fill="#b0102e"/>
<text x="283.10" y="286.64" font-size="7.20" fill="#4a66a8" textLength="3.60" lengthAdjust="spacingAndGlyphs" transform="rotate(0.06 283.10 286.64)">9</text>
<rect x="290.40" y="292.94" width="2.4" height="1" fill="#222"/>
<path d="M294.45,299.97L296.35,299.97L297.05,297.97L295.15,297.97ZM298.05,299.97L299.95,299.97L300.65,297.97L298.75,297.97ZM301.65,299.97L303.55,299.97L304.25,297.97L302.35,297.97ZM305.25,299.97L307.15,299.97L307.85,297.97L305.95,297.97ZM308.85,299.97L310.75,299.97L311.45,297.97L309.55,297.97ZM312.45,299.97L314.35,299.97L315.05,297.97L313.15,297.97ZM316.05,299.97L317.95,299.97L318.65,297.97L316.75,297.97ZM319.65,299.97L321.55,299.97L322.25,297.97L320.35,297.97ZM323.25,299.97L325.15,299.97L325.85,297.97L323.95,297.97ZM326.85,299.97L328.75,299.97L329.45,297.97L327.55,297.97ZM330.45,299.97L332.35,299.97L333.05,297.97L331.15,297.97ZM334.05,299.97L335.95,299.97L336.65,297.97L334.75,297.97ZM337.65,299.97L339.55,299.97L340.25,297.97L338.35,297.97ZM341.25,299.97L343.15,299.97L343.85,297.97L341.95,297.97ZM344.85,299.97L346.75,299.97L347.45,297.97L345.55,297.97ZM348.45,299.97L350.35,299.97L351.05,297.97L349.15,297.97ZM352.05,299.97L353.95,299.97L354.65,297.97L352.75,297.97ZM355.65,299.97L357.55,299.97L358.25,297.97L356.35,297.97ZM359.25,299.97L360.50,299.97L360.50,297.97L359.95,297.97Z" fill="#1b3577"/>
<path d="M293.40,297.87L294.40,297.87L295.10,296.07L294.10,296.07Z" fill="#9fadd2"/>
<rect x="293.30" y="302.57" width="1.80" height="2" fill="#e8920e"/>
<rect x="293.30" y="305.77" width="18.00" height="2" fill="#b0102e"/>
<text x="279.45" y="304.37" font-size="7.20" fill="#4a66a8" textLength="7.21" lengthAdjust="spacingAndGlyphs" transform="rotate(0.06 279.45 304.37)">10</text>
<rect x="290.40" y="310.67" width="2.4" height="1" fill="#222"/>
<rect x="290.60" y="132.85" width="102.40" height="1.1" fill="#222"/>
<path d="M392.5,131.5 L397.5,133.4 L392.5,135.3 Z" fill="#222"/>
<rect x="292.25" y="132.85" width="1.1" height="177.40" fill="#222"/>
<path d="M290.90000000000003,310.8 L292.8,316.4 L294.7,310.8 Z" fill="#222"/>
<text x="295.36" y="315.90" font-size="7.00" fill="#222" textLength="16.18" lengthAdjust="spacingAndGlyphs" transform="rotate(0.06 295.36 315.90)">Maps</text>
<rect x="292.30" y="130.90" width="1" height="2.5" fill="#222"/>
<rect x="313.50" y="130.90" width="1" height="2.5" fill="#222"/>
<text x="312.16" y="126.00" font-size="7.00" fill="#4a66a8" textLength="3.50" lengthAdjust="spacingAndGlyphs" transform="rotate(0.06 312.16 126.00)">1</text>
<rect x="334.70" y="130.90" width="1" height="2.5" fill="#222"/>
<text x="333.45" y="126.00" font-size="7.00" fill="#4a66a8" textLength="3.50" lengthAdjust="spacingAndGlyphs" transform="rotate(0.06 333.45 126.00)">2</text>
<rect x="355.90" y="130.90" width="1" height="2.5" fill="#222"/>
<text x="354.67" y="126.00" font-size="7.00" fill="#4a66a8" textLength="3.50" lengthAdjust="spacingAndGlyphs" transform="rotate(0.06 354.67 126.00)">3</text>
<rect x="377.10" y="130.90" width="1" height="2.5" fill="#222"/>
<text x="375.87" y="126.00" font-size="7.00" fill="#4a66a8" textLength="3.50" lengthAdjust="spacingAndGlyphs" transform="rotate(0.06 375.87 126.00)">4</text>
<rect x="394.40" y="136.9" width="1.2" height="179.90" fill="#333"/>
<rect x="395.00" y="149.40" width="2.7" height="1" fill="#333"/>
<rect x="395.00" y="165.51" width="2.7" height="1" fill="#333"/>
<rect x="395.00" y="181.62" width="2.7" height="1" fill="#333"/>
<rect x="395.00" y="197.73" width="2.7" height="1" fill="#333"/>
<rect x="395.00" y="213.84" width="2.7" height="1" fill="#333"/>
<rect x="395.00" y="229.95" width="2.7" height="1" fill="#333"/>
<rect x="395.00" y="246.06" width="2.7" height="1" fill="#333"/>
<rect x="395.00" y="262.17" width="2.7" height="1" fill="#333"/>
<rect x="395.00" y="278.28" width="2.7" height="1" fill="#333"/>
<rect x="395.00" y="294.39" width="2.7" height="1" fill="#333"/>
<rect x="395.00" y="310.50" width="2.7" height="1" fill="#333"/>
<text x="142.30" y="131.30" font-size="6.60" fill="#111" textLength="35.29" lengthAdjust="spacingAndGlyphs" transform="rotate(0.06 142.30 131.30)">–log(pValue)</text>
<text x="180.77" y="131.10" font-size="8.60" fill="#5b2f82" textLength="14.29" lengthAdjust="spacingAndGlyphs" transform="rotate(0.06 180.77 131.10)">315</text>
<rect x="180.80" y="131.70" width="14.20" height="0.7" fill="#5b2f82" opacity="0.6"/>
<text x="397.90" y="131.60" font-size="6.60" fill="#111" textLength="35.99" lengthAdjust="spacingAndGlyphs" transform="rotate(0.06 397.90 131.60)">–log(pValue)</text>
<text x="436.40" y="131.50" font-size="8.88" fill="#5b2f82" textLength="14.90" lengthAdjust="spacingAndGlyphs" transform="rotate(0.06 436.40 131.50)">403</text>
<rect x="436.30" y="132.00" width="14.90" height="0.7" fill="#5b2f82" opacity="0.6"/>
<text x="145.31" y="145.00" font-size="6.90" fill="#3b5594" textLength="76.92" lengthAdjust="spacingAndGlyphs" transform="rotate(0.06 145.31 145.00)">1 .Cholesterol Biosynthesis</text>
<text x="145.48" y="154.00" font-size="6.90" fill="#3b5594" textLength="89.15" lengthAdjust="spacingAndGlyphs" transform="rotate(0.06 145.48 154.00)">2.Cell cycle_Role of APC in cell</text>
<text x="150.62" y="162.10" font-size="6.90" fill="#3b5594" textLength="45.91" lengthAdjust="spacingAndGlyphs" transform="rotate(0.06 150.62 162.10)">cycle regulation</text>
<text x="144.86" y="172.10" font-size="6.90" fill="#3b5594" textLength="98.35" lengthAdjust="spacingAndGlyphs" transform="rotate(0.06 144.86 172.10)">3.Cell cycle_Spindle assembly and</text>
<text x="150.62" y="179.30" font-size="6.90" fill="#3b5594" textLength="69.50" lengthAdjust="spacingAndGlyphs" transform="rotate(0.06 150.62 179.30)">chromosome separation</text>
<text x="144.95" y="189.40" font-size="6.90" fill="#3b5594" textLength="89.56" lengthAdjust="spacingAndGlyphs" transform="rotate(0.06 144.95 189.40)">4.Signal transduction_mTORC1</text>
<text x="150.63" y="197.00" font-size="6.90" fill="#3b5594" textLength="63.20" lengthAdjust="spacingAndGlyphs" transform="rotate(0.06 150.63 197.00)">downstream signaling</text>
<text x="144.84" y="206.30" font-size="6.90" fill="#3b5594" textLength="98.78" lengthAdjust="spacingAndGlyphs" transform="rotate(0.06 144.84 206.30)">5.Transcription_Sirtuin6 regulation</text>
<text x="150.62" y="213.70" font-size="6.90" fill="#3b5594" textLength="38.81" lengthAdjust="spacingAndGlyphs" transform="rotate(0.06 150.62 213.70)">and functions</text>
<text x="144.77" y="223.90" font-size="6.90" fill="#3b5594" textLength="82.94" lengthAdjust="spacingAndGlyphs" transform="rotate(0.06 144.77 223.90)">6.Cell cyelc_Sister chromatid</text>
<text x="150.62" y="231.70" font-size="6.90" fill="#3b5594" textLength="26.10" lengthAdjust="spacingAndGlyphs" transform="rotate(0.06 150.62 231.70)">cobesion</text>
<text x="144.76" y="241.20" font-size="6.90" fill="#3b5594" textLength="102.64" lengthAdjust="spacingAndGlyphs" transform="rotate(0.06 144.76 241.20)">7.Platelet activation during ADAM–</text>
<text x="147.96" y="248.60" font-size="6.90" fill="#3b5594" textLength="69.99" lengthAdjust="spacingAndGlyphs" transform="rotate(0.06 147.96 248.60)">TS13–deficient thrombotic</text>
<text x="150.46" y="256.20" font-size="6.90" fill="#3b5594" textLength="87.79" lengthAdjust="spacingAndGlyphs" transform="rotate(0.06 150.46 256.20)">microangiopathy development</text>
<text x="145.01" y="266.50" font-size="6.90" fill="#3b5594" textLength="97.11" lengthAdjust="spacingAndGlyphs" transform="rotate(0.06 145.01 266.50)">8.Regulation of lipid metabolism_</text>
<text x="150.26" y="274.20" font-size="6.90" fill="#3b5594" textLength="99.57" lengthAdjust="spacingAndGlyphs" transform="rotate(0.06 150.26 274.20)">RXR-dependent regulation of lipid</text>
<text x="150.39" y="281.40" font-size="6.90" fill="#3b5594" textLength="104.10" lengthAdjust="spacingAndGlyphs" transform="rotate(0.06 150.39 281.40)">metabolism via PPAR, RAR and VDR</text>
<text x="145.01" y="291.10" font-size="6.90" fill="#3b5594" textLength="47.65" lengthAdjust="spacingAndGlyphs" transform="rotate(0.06 145.01 291.10)">9.NBTosis in SLE</text>
<text x="141.41" y="300.70" font-size="6.90" fill="#3b5594" textLength="93.11" lengthAdjust="spacingAndGlyphs" transform="rotate(0.06 141.41 300.70)">10.Signal transduction_Activin A</text>
<text x="150.62" y="307.90" font-size="6.90" fill="#3b5594" textLength="56.61" lengthAdjust="spacingAndGlyphs" transform="rotate(0.06 150.62 307.90)">signaling regulation</text>
<text x="404.62" y="141.00" font-size="6.90" fill="#3b5594" textLength="99.99" lengthAdjust="spacingAndGlyphs" transform="rotate(0.06 404.62 141.00)">1.Neurogenesis_NGF/TrkA MAPK–</text>
<text x="409.86" y="148.70" font-size="6.90" fill="#3b5594" textLength="55.27" lengthAdjust="spacingAndGlyphs" transform="rotate(0.06 409.86 148.70)">mediated signaling</text>
<text x="404.78" y="157.70" font-size="6.90" fill="#3b5594" textLength="86.48" lengthAdjust="spacingAndGlyphs" transform="rotate(0.06 404.78 157.70)">2.Apoptosis and survival_NGF</text>
<text x="410.01" y="165.40" font-size="6.90" fill="#3b5594" textLength="59.15" lengthAdjust="spacingAndGlyphs" transform="rotate(0.06 410.01 165.40)">activation of NF–kB</text>
<text x="404.86" y="173.70" font-size="6.90" fill="#3b5594" textLength="81.45" lengthAdjust="spacingAndGlyphs" transform="rotate(0.06 404.86 173.70)">3.Regulation of Tissue factor</text>
<text x="410.12" y="181.50" font-size="6.90" fill="#3b5594" textLength="52.78" lengthAdjust="spacingAndGlyphs" transform="rotate(0.06 410.12 181.50)">signaling in cancer</text>
<text x="404.95" y="189.80" font-size="6.90" fill="#3b5594" textLength="100.76" lengthAdjust="spacingAndGlyphs" transform="rotate(0.06 404.95 189.80)">4.Immune response_IL–2 activation</text>
<text x="410.03" y="197.00" font-size="6.90" fill="#3b5594" textLength="63.59" lengthAdjust="spacingAndGlyphs" transform="rotate(0.06 410.03 197.00)">and signaling pathway</text>
<text x="404.84" y="205.30" font-size="6.90" fill="#3b5594" textLength="93.25" lengthAdjust="spacingAndGlyphs" transform="rotate(0.06 404.84 205.30)">5.Apoptosis and survival_Role of</text>
<text x="409.78" y="213.40" font-size="6.90" fill="#3b5594" textLength="92.65" lengthAdjust="spacingAndGlyphs" transform="rotate(0.06 409.78 213.40)">PKR in stress–induced apoptosis</text>
<text x="404.78" y="222.00" font-size="6.90" fill="#3b5594" textLength="72.75" lengthAdjust="spacingAndGlyphs" transform="rotate(0.06 404.78 222.00)">6.Apoptosis and survival_</text>
<text x="409.78" y="229.70" font-size="6.90" fill="#3b5594" textLength="83.16" lengthAdjust="spacingAndGlyphs" transform="rotate(0.06 409.78 229.70)">Endoplasmic reticulum stress</text>
<text x="409.88" y="236.80" font-size="6.90" fill="#3b5594" textLength="51.74" lengthAdjust="spacingAndGlyphs" transform="rotate(0.06 409.88 236.80)">response pathway</text>
<text x="404.76" y="245.60" font-size="6.90" fill="#3b5594" textLength="91.47" lengthAdjust="spacingAndGlyphs" transform="rotate(0.06 404.76 245.60)">7.Effect of H. pylori infection on</text>
<text x="410.02" y="253.20" font-size="6.90" fill="#3b5594" textLength="58.71" lengthAdjust="spacingAndGlyphs" transform="rotate(0.06 410.02 253.20)">gastric epithelial cell</text>
<text x="409.86" y="261.10" font-size="6.90" fill="#3b5594" textLength="35.48" lengthAdjust="spacingAndGlyphs" transform="rotate(0.06 409.86 261.10)">proliferation</text>
<text x="404.82" y="269.40" font-size="6.90" fill="#3b5594" textLength="91.39" lengthAdjust="spacingAndGlyphs" transform="rotate(0.06 404.82 269.40)">8.Reproduction_Gonadotropin–</text>
<text x="409.88" y="276.60" font-size="6.90" fill="#3b5594" textLength="103.43" lengthAdjust="spacingAndGlyphs" transform="rotate(0.06 409.88 276.60)">releasing hormone (GnRH) signaling</text>
<text x="404.80" y="285.40" font-size="6.90" fill="#3b5594" textLength="98.50" lengthAdjust="spacingAndGlyphs" transform="rotate(0.06 404.80 285.40)">9.Immune response_IL–4 signaling</text>
<text x="409.88" y="292.80" font-size="6.90" fill="#3b5594" textLength="24.33" lengthAdjust="spacingAndGlyphs" transform="rotate(0.06 409.88 292.80)">pathway</text>
<text x="400.81" y="301.60" font-size="6.90" fill="#3b5594" textLength="105.41" lengthAdjust="spacingAndGlyphs" transform="rotate(0.06 400.81 301.60)">10.Immune response_MIF_mediated</text>
<text x="410.02" y="309.00" font-size="6.90" fill="#3b5594" textLength="72.32" lengthAdjust="spacingAndGlyphs" transform="rotate(0.06 410.02 309.00)">glucocorticoid regulation</text>
<path d="M64.89999999999999,327.3 L66.0,327.3 L65.7,328.6 L64.89999999999999,328.6 Z" fill="#9fb0d6"/>
<path d="M66.2,331.4 L67.89999999999999,331.4 L69.6,327.3 L67.89999999999999,327.3 Z" fill="#1b3577"/>
<path d="M70.1,331.4 L71.7,331.4 L72.89999999999999,327.3 L71.3,327.3 Z" fill="#1b3577"/>
<text x="75.42" y="331.20" font-size="6.20" fill="#333" textLength="22.54" lengthAdjust="spacingAndGlyphs" stroke="#333" stroke-width="0.1" transform="rotate(0.06 75.42 331.20)">Common</text>
<rect x="107.20" y="327.5" width="6.9" height="3.7" fill="#e8920e"/>
<text x="117.07" y="331.20" font-size="6.20" fill="#333" textLength="33.77" lengthAdjust="spacingAndGlyphs" stroke="#333" stroke-width="0.1" transform="rotate(0.06 117.07 331.20)">BCP-1 Unique</text>
<rect x="159.90" y="327.5" width="7.2" height="3.7" fill="#b0102e"/>
<text x="170.06" y="331.20" font-size="6.20" fill="#333" textLength="36.87" lengthAdjust="spacingAndGlyphs" stroke="#333" stroke-width="0.1" transform="rotate(0.06 170.06 331.20)">BCBL-1 Unique</text>
<path d="M325.5,327.3 L326.59999999999997,327.3 L326.29999999999995,328.6 L325.5,328.6 Z" fill="#9fb0d6"/>
<path d="M326.79999999999995,331.4 L328.5,331.4 L330.2,327.3 L328.5,327.3 Z" fill="#1b3577"/>
<path d="M330.7,331.4 L332.29999999999995,331.4 L333.5,327.3 L331.9,327.3 Z" fill="#1b3577"/>
<text x="336.02" y="331.20" font-size="6.20" fill="#333" textLength="22.54" lengthAdjust="spacingAndGlyphs" stroke="#333" stroke-width="0.1" transform="rotate(0.06 336.02 331.20)">Common</text>
<rect x="367.80" y="327.5" width="6.9" height="3.7" fill="#e8920e"/>
<text x="377.67" y="331.20" font-size="6.20" fill="#333" textLength="33.77" lengthAdjust="spacingAndGlyphs" stroke="#333" stroke-width="0.1" transform="rotate(0.06 377.67 331.20)">BCP-1 Unique</text>
<rect x="420.50" y="327.5" width="7.2" height="3.7" fill="#b0102e"/>
<text x="430.66" y="331.20" font-size="6.20" fill="#333" textLength="36.87" lengthAdjust="spacingAndGlyphs" stroke="#333" stroke-width="0.1" transform="rotate(0.06 430.66 331.20)">BCBL-1 Unique</text>
<rect x="338.30" y="364.90" width="25.57" height="6.13" fill="#b3b3dc"/>
<rect x="363.57" y="364.90" width="25.57" height="6.13" fill="#7272b8"/>
<rect x="388.84" y="364.90" width="25.57" height="6.13" fill="#8c8cc8"/>
<text x="313.09" y="369.51" font-size="5.00" fill="#1e1e1e" textLength="14.81" lengthAdjust="spacingAndGlyphs" stroke="#1e1e1e" stroke-width="0.12" transform="rotate(0.06 313.09 369.51)">AURKA</text>
<rect x="338.30" y="370.73" width="25.57" height="6.13" fill="#b3b3dc"/>
<rect x="363.57" y="370.73" width="25.57" height="6.13" fill="#7070b5"/>
<rect x="388.84" y="370.73" width="25.57" height="6.13" fill="#a4a4d6"/>
<text x="313.21" y="375.34" font-size="5.00" fill="#1e1e1e" textLength="14.58" lengthAdjust="spacingAndGlyphs" stroke="#1e1e1e" stroke-width="0.12" transform="rotate(0.06 313.21 375.34)">CCNB2</text>
<rect x="338.30" y="376.56" width="25.57" height="6.13" fill="#b3b3dc"/>
<rect x="363.57" y="376.56" width="25.57" height="6.13" fill="#6e6eb5"/>
<rect x="388.84" y="376.56" width="25.57" height="6.13" fill="#8a8ac6"/>
<text x="313.20" y="381.17" font-size="5.00" fill="#1e1e1e" textLength="14.58" lengthAdjust="spacingAndGlyphs" stroke="#1e1e1e" stroke-width="0.12" transform="rotate(0.06 313.20 381.17)">CDCA3</text>
<rect x="338.30" y="382.38" width="25.57" height="6.13" fill="#b3b3dc"/>
<rect x="363.57" y="382.38" width="25.57" height="6.13" fill="#8080c0"/>
<rect x="388.84" y="382.38" width="25.57" height="6.13" fill="#8a8ac6"/>
<text x="312.99" y="387.00" font-size="5.00" fill="#1e1e1e" textLength="14.81" lengthAdjust="spacingAndGlyphs" stroke="#1e1e1e" stroke-width="0.12" transform="rotate(0.06 312.99 387.00)">CENPA</text>
<rect x="338.30" y="388.21" width="25.57" height="6.13" fill="#a3a3d4"/>
<rect x="363.57" y="388.21" width="25.57" height="6.13" fill="#6868b0"/>
<rect x="388.84" y="388.21" width="25.57" height="6.13" fill="#8c8cc8"/>
<text x="311.93" y="392.83" font-size="5.00" fill="#1e1e1e" textLength="16.97" lengthAdjust="spacingAndGlyphs" stroke="#1e1e1e" stroke-width="0.12" transform="rotate(0.06 311.93 392.83)">DLGAP5</text>
<rect x="338.30" y="394.04" width="25.57" height="6.13" fill="#f5dcdc"/>
<rect x="363.57" y="394.04" width="25.57" height="6.13" fill="#e3a0a0"/>
<rect x="388.84" y="394.04" width="25.57" height="6.13" fill="#e3a0a0"/>
<text x="312.19" y="398.65" font-size="5.00" fill="#1e1e1e" textLength="16.49" lengthAdjust="spacingAndGlyphs" stroke="#1e1e1e" stroke-width="0.12" transform="rotate(0.06 312.19 398.65)">FBXO32</text>
<rect x="338.30" y="399.87" width="25.57" height="6.13" fill="#8a8ac6"/>
<rect x="363.57" y="399.87" width="25.57" height="6.13" fill="#a4a4d6"/>
<rect x="388.84" y="399.87" width="25.57" height="6.13" fill="#6b6bb3"/>
<text x="308.58" y="404.48" font-size="5.00" fill="#1e1e1e" textLength="23.66" lengthAdjust="spacingAndGlyphs" stroke="#1e1e1e" stroke-width="0.12" transform="rotate(0.06 308.58 404.48)">HIST1H2BC</text>
<rect x="338.30" y="405.70" width="25.57" height="6.13" fill="#6a6ab2"/>
<rect x="363.57" y="405.70" width="25.57" height="6.13" fill="#7878ba"/>
<rect x="388.84" y="405.70" width="25.57" height="6.13" fill="#3e3e9a"/>
<text x="310.57" y="410.31" font-size="5.00" fill="#1e1e1e" textLength="19.83" lengthAdjust="spacingAndGlyphs" stroke="#1e1e1e" stroke-width="0.12" transform="rotate(0.06 310.57 410.31)">HIST1H3J</text>
<rect x="338.30" y="411.52" width="25.57" height="6.13" fill="#a8a8d8"/>
<rect x="363.57" y="411.52" width="25.57" height="6.13" fill="#8888c4"/>
<rect x="388.84" y="411.52" width="25.57" height="6.13" fill="#8c8cca"/>
<text x="314.66" y="416.14" font-size="5.00" fill="#1e1e1e" textLength="11.47" lengthAdjust="spacingAndGlyphs" stroke="#1e1e1e" stroke-width="0.12" transform="rotate(0.06 314.66 416.14)">HPDL</text>
<rect x="338.30" y="417.35" width="25.57" height="6.13" fill="#9a9ad0"/>
<rect x="363.57" y="417.35" width="25.57" height="6.13" fill="#5252a6"/>
<rect x="388.84" y="417.35" width="25.57" height="6.13" fill="#8c8cca"/>
<text x="313.16" y="421.97" font-size="5.00" fill="#1e1e1e" textLength="14.34" lengthAdjust="spacingAndGlyphs" stroke="#1e1e1e" stroke-width="0.12" transform="rotate(0.06 313.16 421.97)">KIF20A</text>
<rect x="338.30" y="423.18" width="25.57" height="6.13" fill="#d86060"/>
<rect x="363.57" y="423.18" width="25.57" height="6.13" fill="#d03838"/>
<rect x="388.84" y="423.18" width="25.57" height="6.13" fill="#e28080"/>
<text x="305.20" y="427.79" font-size="5.00" fill="#1e1e1e" textLength="30.36" lengthAdjust="spacingAndGlyphs" stroke="#1e1e1e" stroke-width="0.12" transform="rotate(0.06 305.20 427.79)">LOC100132564</text>
<rect x="338.30" y="429.01" width="25.57" height="6.13" fill="#f2d0d0"/>
<rect x="363.57" y="429.01" width="25.57" height="6.13" fill="#e29898"/>
<rect x="388.84" y="429.01" width="25.57" height="6.13" fill="#f0c0c0"/>
<text x="309.45" y="433.62" font-size="5.00" fill="#1e1e1e" textLength="21.75" lengthAdjust="spacingAndGlyphs" stroke="#1e1e1e" stroke-width="0.12" transform="rotate(0.06 309.45 433.62)">PPP1R15A</text>
<rect x="338.30" y="434.84" width="25.57" height="6.13" fill="#ecb8b8"/>
<rect x="363.57" y="434.84" width="25.57" height="6.13" fill="#d02828"/>
<rect x="388.84" y="434.84" width="25.57" height="6.13" fill="#e28888"/>
<text x="313.49" y="439.45" font-size="5.00" fill="#1e1e1e" textLength="13.86" lengthAdjust="spacingAndGlyphs" stroke="#1e1e1e" stroke-width="0.12" transform="rotate(0.06 313.49 439.45)">RN5S9</text>
<rect x="338.30" y="440.66" width="25.57" height="6.13" fill="#e8a0a0"/>
<rect x="363.57" y="440.66" width="25.57" height="6.13" fill="#d03030"/>
<rect x="388.84" y="440.66" width="25.57" height="6.13" fill="#e07878"/>
<text x="313.18" y="445.28" font-size="5.00" fill="#1e1e1e" textLength="14.34" lengthAdjust="spacingAndGlyphs" stroke="#1e1e1e" stroke-width="0.12" transform="rotate(0.06 313.18 445.28)">RN7SK</text>
<rect x="338.30" y="446.49" width="25.57" height="6.13" fill="#f2d0d0"/>
<rect x="363.57" y="446.49" width="25.57" height="6.13" fill="#d24a4a"/>
<rect x="388.84" y="446.49" width="25.57" height="6.13" fill="#e6a4a4"/>
<text x="312.65" y="451.11" font-size="5.00" fill="#1e1e1e" textLength="15.53" lengthAdjust="spacingAndGlyphs" stroke="#1e1e1e" stroke-width="0.12" transform="rotate(0.06 312.65 451.11)">RNU1-3</text>
<rect x="338.30" y="452.32" width="25.57" height="6.13" fill="#f0d0d0"/>
<rect x="363.57" y="452.32" width="25.57" height="6.13" fill="#d04848"/>
<rect x="388.84" y="452.32" width="25.57" height="6.13" fill="#e4a0a0"/>
<text x="312.65" y="456.93" font-size="5.00" fill="#1e1e1e" textLength="15.53" lengthAdjust="spacingAndGlyphs" stroke="#1e1e1e" stroke-width="0.12" transform="rotate(0.06 312.65 456.93)">RNU1-5</text>
<rect x="338.30" y="458.15" width="25.57" height="6.13" fill="#eebaba"/>
<rect x="363.57" y="458.15" width="25.57" height="6.13" fill="#d04444"/>
<rect x="388.84" y="458.15" width="25.57" height="6.13" fill="#e4a0a0"/>
<text x="311.71" y="462.76" font-size="5.00" fill="#1e1e1e" textLength="17.44" lengthAdjust="spacingAndGlyphs" stroke="#1e1e1e" stroke-width="0.12" transform="rotate(0.06 311.71 462.76)">RNU1G2</text>
<rect x="338.30" y="463.98" width="25.57" height="6.13" fill="#a0a8dc"/>
<rect x="363.57" y="463.98" width="25.57" height="6.13" fill="#a0a8dc"/>
<rect x="388.84" y="463.98" width="25.57" height="6.13" fill="#6a6ab8"/>
<text x="309.67" y="468.59" font-size="5.00" fill="#1e1e1e" textLength="21.74" lengthAdjust="spacingAndGlyphs" stroke="#1e1e1e" stroke-width="0.12" transform="rotate(0.06 309.67 468.59)">TNFRSF18</text>
<rect x="338.30" y="469.80" width="25.57" height="6.13" fill="#f0c0c0"/>
<rect x="363.57" y="469.80" width="25.57" height="6.13" fill="#e09898"/>
<rect x="388.84" y="469.80" width="25.57" height="6.13" fill="#e8a8a8"/>
<text x="313.26" y="474.42" font-size="5.00" fill="#1e1e1e" textLength="14.57" lengthAdjust="spacingAndGlyphs" stroke="#1e1e1e" stroke-width="0.12" transform="rotate(0.06 313.26 474.42)">TRPM8</text>
<rect x="338.30" y="475.63" width="25.57" height="6.13" fill="#f5e0e0"/>
<rect x="363.57" y="475.63" width="25.57" height="6.13" fill="#f5dada"/>
<rect x="388.84" y="475.63" width="25.57" height="6.13" fill="#f5dada"/>
<text x="313.85" y="480.25" font-size="5.00" fill="#1e1e1e" textLength="13.39" lengthAdjust="spacingAndGlyphs" stroke="#1e1e1e" stroke-width="0.12" transform="rotate(0.06 313.85 480.25)">YPEL5</text>
<rect x="338.30" y="481.46" width="25.57" height="6.13" fill="#f2d0d0"/>
<rect x="363.57" y="481.46" width="25.57" height="6.13" fill="#f2d0d0"/>
<rect x="388.84" y="481.46" width="25.57" height="6.13" fill="#e49a9a"/>
<text x="314.21" y="486.07" font-size="5.00" fill="#1e1e1e" textLength="12.42" lengthAdjust="spacingAndGlyphs" stroke="#1e1e1e" stroke-width="0.12" transform="rotate(0.06 314.21 486.07)">DDIT3</text>
<rect x="338.30" y="487.29" width="25.57" height="6.13" fill="#6868b8"/>
<rect x="363.57" y="487.29" width="25.57" height="6.13" fill="#7878c0"/>
<rect x="388.84" y="487.29" width="25.57" height="6.13" fill="#4a4aaa"/>
<text x="310.57" y="491.90" font-size="5.00" fill="#1e1e1e" textLength="19.83" lengthAdjust="spacingAndGlyphs" stroke="#1e1e1e" stroke-width="0.12" transform="rotate(0.06 310.57 491.90)">HIST1H3J</text>
<rect x="338.30" y="493.12" width="25.57" height="6.13" fill="#f0c8c8"/>
<rect x="363.57" y="493.12" width="25.57" height="6.13" fill="#d85858"/>
<rect x="388.84" y="493.12" width="25.57" height="6.13" fill="#e49090"/>
<text x="305.20" y="497.73" font-size="5.00" fill="#1e1e1e" textLength="30.36" lengthAdjust="spacingAndGlyphs" stroke="#1e1e1e" stroke-width="0.12" transform="rotate(0.06 305.20 497.73)">LOC100132564</text>
<rect x="338.30" y="498.94" width="25.57" height="6.13" fill="#f2d0d0"/>
<rect x="363.57" y="498.94" width="25.57" height="6.13" fill="#e8b0b0"/>
<rect x="388.84" y="498.94" width="25.57" height="6.13" fill="#e08888"/>
<text x="313.49" y="503.56" font-size="5.00" fill="#1e1e1e" textLength="13.86" lengthAdjust="spacingAndGlyphs" stroke="#1e1e1e" stroke-width="0.12" transform="rotate(0.06 313.49 503.56)">RN5S9</text>
<rect x="338.30" y="504.77" width="25.57" height="6.13" fill="#f0c0c0"/>
<rect x="363.57" y="504.77" width="25.57" height="6.13" fill="#e49a9a"/>
<rect x="388.84" y="504.77" width="25.57" height="6.13" fill="#df7a7a"/>
<text x="313.18" y="509.39" font-size="5.00" fill="#1e1e1e" textLength="14.34" lengthAdjust="spacingAndGlyphs" stroke="#1e1e1e" stroke-width="0.12" transform="rotate(0.06 313.18 509.39)">RN7SK</text>
<text x="341.24" y="362.20" font-size="5.00" fill="#262626" textLength="19.22" lengthAdjust="spacingAndGlyphs" transform="rotate(0.06 341.24 362.20)">Drug_315</text>
<text x="366.51" y="362.20" font-size="5.00" fill="#262626" textLength="19.22" lengthAdjust="spacingAndGlyphs" transform="rotate(0.06 366.51 362.20)">Drug_403</text>
<text x="390.92" y="362.20" font-size="5.00" fill="#262626" textLength="20.91" lengthAdjust="spacingAndGlyphs" transform="rotate(0.06 390.92 362.20)">Drug_ABC</text>
<text x="401.24" y="350.80" font-size="4.90" fill="#222" textLength="37.54" lengthAdjust="spacingAndGlyphs" stroke="#222" stroke-width="0.08" transform="rotate(0.06 401.24 350.80)">Fold Change log10</text>
<rect x="407.0" y="354.0" width="27.1" height="2.6" rx="0.6" fill="url(#fcg)"/>
<text x="400.20" y="357.40" font-size="4.90" fill="#333" transform="rotate(0.06 400.20 357.40)">-1</text>
<text x="437.20" y="357.60" font-size="5.30" fill="#333" transform="rotate(0.06 437.20 357.60)">2</text>
<rect x="377.80" y="541.00" width="103.50" height="3.2" fill="#1e3a7e"/>
<text x="316.68" y="544.55" font-size="7.30" fill="#62347f" textLength="57.94" lengthAdjust="spacingAndGlyphs" stroke="#62347f" stroke-width="0.08" transform="rotate(0.06 316.68 544.55)">Chromatin assembly</text>
<rect x="377.80" y="549.80" width="103.50" height="3.2" fill="#1e3a7e"/>
<text x="323.43" y="553.35" font-size="7.30" fill="#62347f" textLength="51.40" lengthAdjust="spacingAndGlyphs" stroke="#62347f" stroke-width="0.08" transform="rotate(0.06 323.43 553.35)">Cell cycle process</text>
<rect x="377.80" y="558.60" width="103.50" height="3.2" fill="#1e3a7e"/>
<text x="268.21" y="562.15" font-size="7.30" fill="#62347f" textLength="106.82" lengthAdjust="spacingAndGlyphs" stroke="#62347f" stroke-width="0.08" transform="rotate(0.06 268.21 562.15)">Regulation of mitotic nuclear division</text>
<rect x="377.80" y="567.40" width="103.50" height="3.2" fill="#1e3a7e"/>
<text x="342.18" y="570.95" font-size="7.30" fill="#62347f" textLength="32.66" lengthAdjust="spacingAndGlyphs" stroke="#62347f" stroke-width="0.08" transform="rotate(0.06 342.18 570.95)">Cytokinesis</text>
<rect x="377.80" y="576.20" width="103.50" height="3.2" fill="#1e3a7e"/>
<text x="310.73" y="579.75" font-size="7.30" fill="#62347f" textLength="63.88" lengthAdjust="spacingAndGlyphs" stroke="#62347f" stroke-width="0.08" transform="rotate(0.06 310.73 579.75)">Nucleosome assembly</text>
<rect x="377.80" y="585.00" width="103.50" height="3.2" fill="#1e3a7e"/>
<text x="272.18" y="588.55" font-size="7.30" fill="#62347f" textLength="102.44" lengthAdjust="spacingAndGlyphs" stroke="#62347f" stroke-width="0.08" transform="rotate(0.06 272.18 588.55)">Chromatin assembly or disassembly</text>
<rect x="377.80" y="593.80" width="103.50" height="3.2" fill="#1e3a7e"/>
<text x="328.70" y="597.35" font-size="7.30" fill="#62347f" textLength="46.33" lengthAdjust="spacingAndGlyphs" stroke="#62347f" stroke-width="0.08" transform="rotate(0.06 328.70 597.35)">DNA packaging</text>
<rect x="377.80" y="602.60" width="103.50" height="3.2" fill="#1e3a7e"/>
<text x="303.22" y="606.15" font-size="7.30" fill="#62347f" textLength="71.62" lengthAdjust="spacingAndGlyphs" stroke="#62347f" stroke-width="0.08" transform="rotate(0.06 303.22 606.15)">Mitotic cell cycle process</text>
<rect x="377.80" y="611.40" width="97.10" height="3.2" fill="#1e3a7e"/>
<text x="340.17" y="614.95" font-size="7.30" fill="#62347f" textLength="34.86" lengthAdjust="spacingAndGlyphs" stroke="#62347f" stroke-width="0.08" transform="rotate(0.06 340.17 614.95)">Cell division</text>
<rect x="377.80" y="620.20" width="88.90" height="3.2" fill="#1e3a7e"/>
<text x="347.17" y="623.75" font-size="7.30" fill="#62347f" textLength="27.72" lengthAdjust="spacingAndGlyphs" stroke="#62347f" stroke-width="0.08" transform="rotate(0.06 347.17 623.75)">Cell cycle</text>
<rect x="377.30" y="537.8" width="1" height="90.40" fill="#222"/>
<rect x="377.30" y="624.7" width="106.50" height="1" fill="#222"/>
<rect x="377.30" y="625" width="1" height="3" fill="#222"/>
<text x="377.80" y="637.00" font-size="6.60" fill="#222" text-anchor="middle" stroke="#222" stroke-width="0.1" transform="rotate(0.06 377.80 637.00)">0</text>
<rect x="398.00" y="625" width="1" height="3" fill="#222"/>
<text x="398.50" y="637.00" font-size="6.60" fill="#222" text-anchor="middle" stroke="#222" stroke-width="0.1" transform="rotate(0.06 398.50 637.00)">0.002</text>
<rect x="418.70" y="625" width="1" height="3" fill="#222"/>
<text x="419.20" y="637.00" font-size="6.60" fill="#222" text-anchor="middle" stroke="#222" stroke-width="0.1" transform="rotate(0.06 419.20 637.00)">0.004</text>
<rect x="439.40" y="625" width="1" height="3" fill="#222"/>
<text x="439.90" y="637.00" font-size="6.60" fill="#222" text-anchor="middle" stroke="#222" stroke-width="0.1" transform="rotate(0.06 439.90 637.00)">0.006</text>
<rect x="460.10" y="625" width="1" height="3" fill="#222"/>
<text x="460.60" y="637.00" font-size="6.60" fill="#222" text-anchor="middle" stroke="#222" stroke-width="0.1" transform="rotate(0.06 460.60 637.00)">0.008</text>
<rect x="480.80" y="625" width="1" height="3" fill="#222"/>
<text x="481.30" y="637.00" font-size="6.60" fill="#222" text-anchor="middle" stroke="#222" stroke-width="0.1" transform="rotate(0.06 481.30 637.00)">0.01</text>
<text x="405.96" y="649.20" font-size="8.40" fill="#222" textLength="48.95" lengthAdjust="spacingAndGlyphs" stroke="#222" stroke-width="0.2" transform="rotate(0.06 405.96 649.20)">Enrichment FDR</text>
</svg></body></html>
